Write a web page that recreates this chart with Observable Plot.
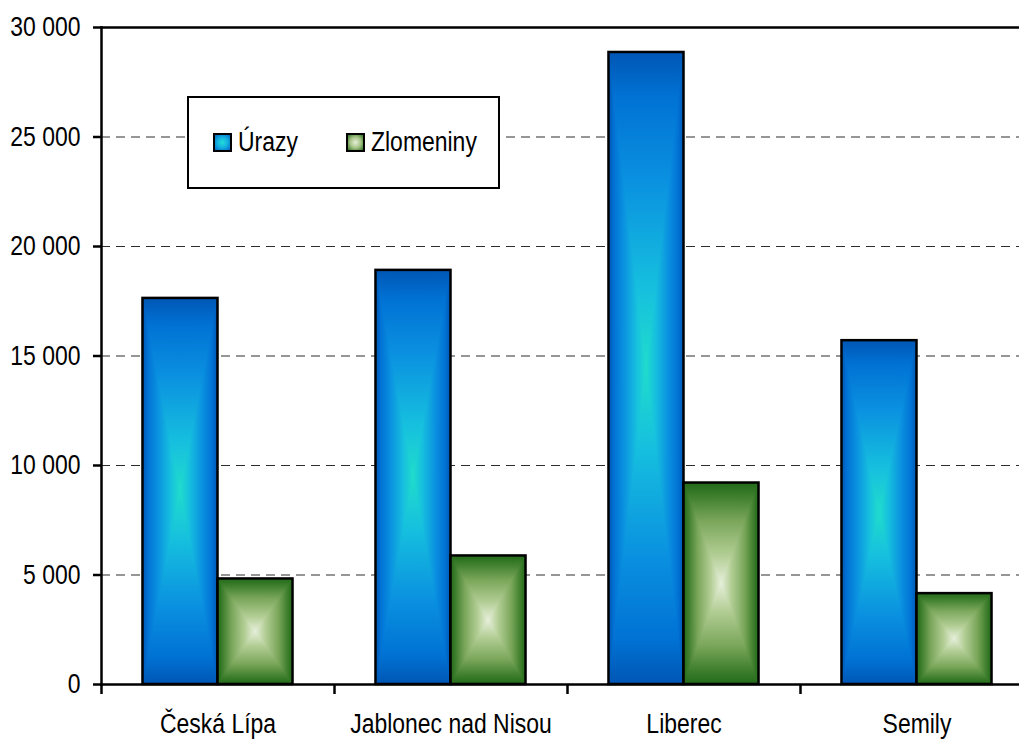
<!DOCTYPE html>
<html>
<head>
<meta charset="utf-8">
<script src="https://cdn.jsdelivr.net/npm/d3@7"></script>
<script src="https://cdn.jsdelivr.net/npm/@observablehq/plot@0.6"></script>
<style>
  html, body { margin: 0; padding: 0; background: #fff; }
  #wrap { position: relative; width: 1019px; height: 740px; overflow: hidden; font-family: "Liberation Sans", Arial, sans-serif; }
  #chart svg { max-width: none !important; display: block; }
  #legend { position: absolute; left: 187px; top: 96px; width: 309px; height: 89px; border: 2px solid #000; background: #fff; font-size: 27px; color: #000; }
  #legend .item { position: absolute; top: 0; height: 89px; display: flex; align-items: center; }
  #legend .sw { width: 15px; height: 15px; border: 2px solid #000; margin-right: 6px; flex: none; }
  #legend span { display: inline-block; transform: scaleX(0.85); transform-origin: left center; white-space: nowrap; }
</style>
</head>
<body>
<div id="wrap"><div id="chart"></div>
  <div id="legend"></div>
</div>
<script>
const cities = ["Česká Lípa", "Jablonec nad Nisou", "Liberec", "Semily"];
const series = ["Úrazy", "Zlomeniny"];
const urazy = [17630, 18910, 28860, 15700];
const zlomeniny = [4820, 5870, 9200, 4150];
const yTicks = [0, 5000, 10000, 15000, 20000, 25000, 30000];
const gridTicks = [5000, 10000, 15000, 20000, 25000];

const data = cities.flatMap((c, i) => [
  {city: c, series: series[0], value: urazy[i]},
  {city: c, series: series[1], value: zlomeniny[i]}
]);

const W = 1033, ML = 101, MR = 0;
const step = (W - ML - MR) / cities.length;
const outer = 0.178, mid = 0.5;
const squeeze = 0.85;
const fmt = d3.formatLocale({decimal: ",", thousands: " ", grouping: [3], currency: ["", ""]}).format(",");
const FONT = "'Liberation Sans', Arial, sans-serif";

const plot = Plot.plot({
  width: W, height: 740,
  marginLeft: ML, marginRight: MR, marginTop: 27, marginBottom: 56,
  style: {fontFamily: FONT, fontSize: "27px", color: "#000", background: "transparent", overflow: "visible", maxWidth: "none"},
  x: {type: "band", domain: cities, padding: 0, axis: null},
  y: {domain: [0, 30000], axis: null},
  color: {domain: series, range: ["url(#pBlue)", "url(#pGreen)"]},
  marks: [
    Plot.gridY({ticks: gridTicks, stroke: "#2e2e2e", strokeOpacity: 1, strokeWidth: 1.2, strokeDasharray: "9,6"}),
    Plot.barY(data.filter(d => d.series === series[0]), {x: "city", y: "value", fill: "series",
      insetLeft: step * outer, insetRight: step * (1 - mid), stroke: "#000", strokeWidth: 2.5}),
    Plot.barY(data.filter(d => d.series === series[1]), {x: "city", y: "value", fill: "series",
      insetLeft: step * mid, insetRight: step * outer, stroke: "#000", strokeWidth: 2.5}),
    Plot.frame({anchor: "top", stroke: "#000", strokeWidth: 2.5}),
    Plot.frame({anchor: "left", stroke: "#000", strokeWidth: 2.5}),
    Plot.frame({anchor: "bottom", stroke: "#000", strokeWidth: 2.5}),
    Plot.axisY({ticks: yTicks, tickSize: 8, tickPadding: 13, tickFormat: fmt, fontSize: 27, strokeWidth: 2.5, label: null}),
    Plot.axisX({ticks: cities, tickSize: 10, tickFormat: () => "", dx: -step / 2, strokeWidth: 2.5, label: null}),
    Plot.axisX({ticks: cities, tickSize: 0, tickPadding: 29, fontSize: 27, label: null})
  ]
});

// rectangular ("from centre") gradients: four triangles, each shading from the edge to the centre,
// laid over a matching radial gradient so that the triangle seams do not show
const svg = d3.select(plot);
const defs = svg.insert("defs", ":first-child");
const dirs = {
  t: {pts: "0,0 1,0 0.5,0.5", x1: 0, y1: 0, x2: 0, y2: 1},
  b: {pts: "0,1 1,1 0.5,0.5", x1: 0, y1: 1, x2: 0, y2: 0},
  l: {pts: "0,0 0,1 0.5,0.5", x1: 0, y1: 0, x2: 1, y2: 0},
  r: {pts: "1,0 1,1 0.5,0.5", x1: 1, y1: 0, x2: 0, y2: 0}
};
function boxGradient(id, stops) {
  Object.entries(dirs).forEach(([k, d]) => {
    const g = defs.append("linearGradient").attr("id", `${id}-${k}`)
      .attr("x1", d.x1).attr("y1", d.y1).attr("x2", d.x2).attr("y2", d.y2);
    stops.forEach(([o, c]) => g.append("stop").attr("offset", o).attr("stop-color", c));
  });
  const rg = defs.append("radialGradient").attr("id", `${id}-bg`)
    .attr("cx", 0.5).attr("cy", 0.5).attr("r", Math.SQRT1_2);
  stops.slice().reverse().forEach(([o, c]) => rg.append("stop").attr("offset", 1 - o).attr("stop-color", c));
  const p = defs.append("pattern").attr("id", id)
    .attr("patternUnits", "objectBoundingBox").attr("patternContentUnits", "objectBoundingBox")
    .attr("x", 0).attr("y", 0).attr("width", 1).attr("height", 1);
  p.append("rect").attr("x", 0).attr("y", 0).attr("width", 1).attr("height", 1).attr("fill", `url(#${id}-bg)`);
  Object.entries(dirs).forEach(([k, d]) => {
    p.append("polygon").attr("points", d.pts).attr("fill", `url(#${id}-${k})`);
  });
}
boxGradient("pBlue", [[0, "#0056b4"], [0.14, "#0072d4"], [0.4, "#0a90e0"], [0.75, "#16c0de"], [1, "#20dccc"]]);
boxGradient("pGreen", [[0, "#226a1a"], [0.12, "#3a7c2a"], [0.38, "#7aa65a"], [0.72, "#b2cd94"], [1, "#e6efda"]]);

document.getElementById("chart").appendChild(plot);

// narrow the glyphs, like the condensed face of the original
plot.querySelectorAll("text").forEach(t => {
  const w = t.getComputedTextLength();
  if (w > 0) {
    t.setAttribute("textLength", w * squeeze);
    t.setAttribute("lengthAdjust", "spacingAndGlyphs");
  }
});

const legend = document.getElementById("legend");
const swatches = [
  "radial-gradient(circle, #22dcd4 0%, #14b4e0 45%, #0068c8 100%)",
  "radial-gradient(circle, #e4efd8 0%, #a8c488 50%, #2e7424 100%)"
];
const lefts = [24, 157];
series.forEach((s, i) => {
  const it = document.createElement("div");
  it.className = "item";
  it.style.left = lefts[i] + "px";
  const sw = document.createElement("div");
  sw.className = "sw";
  sw.style.background = swatches[i];
  const t = document.createElement("span");
  t.textContent = s;
  it.appendChild(sw); it.appendChild(t);
  legend.appendChild(it);
});
</script>
</body>
</html>
